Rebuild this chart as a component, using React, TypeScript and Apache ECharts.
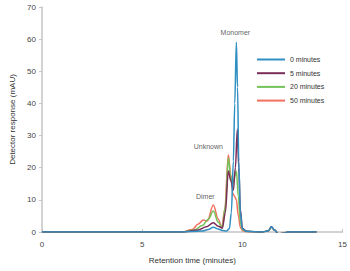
import React, { useEffect, useRef } from "react";
import * as echarts from "echarts";

const seriesNames = ["0 minutes", "5 minutes", "20 minutes", "50 minutes"];
const seriesColors = ["#2f8fc2", "#7a2d58", "#74c25a", "#f2705f"];

const t0 = [0, 7.0, 8.0, 8.3, 8.55, 8.8, 9.0, 9.2, 9.35, 9.45, 9.55, 9.62, 9.7, 9.76, 9.82, 9.9, 10.0, 10.2, 11.0, 11.3, 11.45, 11.6, 11.8, 12.0, 12.3, 13.7];
const v0 = [0, 0, 0.3, 0.8, 1.5, 0.9, 0.5, 0.3, 1.0, 6.0, 22, 40, 59, 45, 22, 6, 1, 0.2, 0, 0.4, 1.6, 0.6, -0.6, -0.4, 0, 0];

const t5 = [0, 7.0, 7.8, 8.2, 8.55, 8.8, 9.0, 9.15, 9.3, 9.42, 9.55, 9.65, 9.75, 9.82, 9.9, 10.0, 10.2, 11.0, 11.3, 11.45, 11.6, 11.8, 12.0, 12.3, 13.7];
const v5 = [0, 0, 0.6, 1.6, 2.9, 1.8, 1.2, 6, 19, 16, 13, 20, 32, 20, 7, 1.2, 0.2, 0, 0.4, 1.6, 0.6, -0.6, -0.4, 0, 0];

const t20 = [0, 7.0, 7.6, 8.0, 8.3, 8.55, 8.8, 9.0, 9.15, 9.3, 9.42, 9.52, 9.6, 9.7, 9.8, 9.9, 10.0, 10.2, 11.0, 11.3, 11.45, 11.6, 11.8, 12.0, 12.3, 13.7];
const v20 = [0, 0, 0.6, 2.0, 4.0, 6.5, 3.0, 1.5, 8, 23, 17, 15, 17, 19, 11, 3, 0.8, 0.2, 0, 0.4, 1.5, 0.6, -0.6, -0.4, 0, 0];

const t50 = [0, 7.0, 7.5, 7.8, 8.05, 8.25, 8.55, 8.8, 8.97, 9.12, 9.3, 9.42, 9.52, 9.62, 9.7, 9.8, 9.9, 10.0, 10.2, 11.0, 11.3, 11.45, 11.6, 11.8, 12.0, 12.3, 13.7];
const v50 = [0, 0, 0.8, 2.5, 3.7, 3.4, 8.4, 4.0, 1.3, 7, 24, 18, 12, 11, 10, 5, 1.5, 0.5, 0.1, 0, 0.4, 1.5, 0.6, -0.6, -0.4, 0, 0];

const seriesTimes = [t0, t5, t20, t50];
const seriesValues = [v0, v5, v20, v50];

const annotationNames = ["Monomer", "Unknown", "Dimer"];
const annotationX = [9.65, 8.3, 8.15];
const annotationY = [62, 26.5, 10.9];

const xTicks = [0, 5, 10, 15];
const yMax = 70;

export default function App() {
  const ref = useRef<HTMLDivElement>(null);
  useEffect(() => {
    if (!ref.current) return;
    const chart = echarts.init(ref.current, null, { renderer: "svg" });
    const font = "Liberation Sans";
    const lines = seriesNames.map((name, i) => ({
      name,
      type: "line",
      data: seriesTimes[i].map((t, j) => [t, seriesValues[i][j]]),
      smooth: 0.35,
      smoothMonotone: "x",
      symbol: "none",
      showSymbol: false,
      lineStyle: { width: 1.5, color: seriesColors[i] },
      itemStyle: { color: seriesColors[i] },
      z: 2 + (3 - i),
    }));
    chart.setOption({
      animation: false,
      textStyle: { fontFamily: font },
      grid: { left: 36, right: 3, top: 7, bottom: 39 },
      legend: {
        data: seriesNames.map((n) => ({ name: n, icon: "rect" })),
        orient: "vertical",
        left: 257,
        top: 56,
        padding: 0,
        itemWidth: 28,
        itemHeight: 2,
        itemGap: 6.7,
        textStyle: { fontSize: 7, color: "#333", fontFamily: font },
      },
      xAxis: {
        type: "value",
        min: xTicks[0],
        max: xTicks[xTicks.length - 1],
        interval: 5,
        name: "Retention time (minutes)",
        nameLocation: "middle",
        nameGap: 24,
        nameTextStyle: { fontSize: 8, color: "#333" },
        axisLine: { lineStyle: { color: "#c4c4c4", width: 1.5 } },
        axisTick: { show: true, inside: true, length: 3, lineStyle: { color: "#c4c4c4" } },
        axisLabel: { fontSize: 8, color: "#444", margin: 8 },
        splitLine: { show: false },
      },
      yAxis: {
        type: "value",
        min: 0,
        max: yMax,
        interval: 10,
        name: "Detector response (mAU)",
        nameLocation: "middle",
        nameGap: 26,
        nameTextStyle: { fontSize: 8, color: "#333" },
        axisLine: { show: true, lineStyle: { color: "#c4c4c4", width: 1.5 } },
        axisTick: { show: true, length: 3, lineStyle: { color: "#c4c4c4" } },
        axisLabel: { fontSize: 8, color: "#444", margin: 6 },
        splitLine: { show: false },
      },
      series: [
        ...lines,
        {
          type: "scatter",
          data: annotationNames.map((n, i) => ({ name: n, value: [annotationX[i], annotationY[i]] })),
          symbolSize: 0,
          silent: true,
          label: {
            show: true,
            position: "inside",
            formatter: (p: any) => p.name,
            fontSize: 7,
            color: "#333",
            fontFamily: font,
          },
          z: 10,
        },
      ],
    });
    return () => chart.dispose();
  }, []);
  return (
    <div
      ref={ref}
      style={{ position: "absolute", left: 0, top: 0, width: 350, height: 271 }}
    />
  );
}
